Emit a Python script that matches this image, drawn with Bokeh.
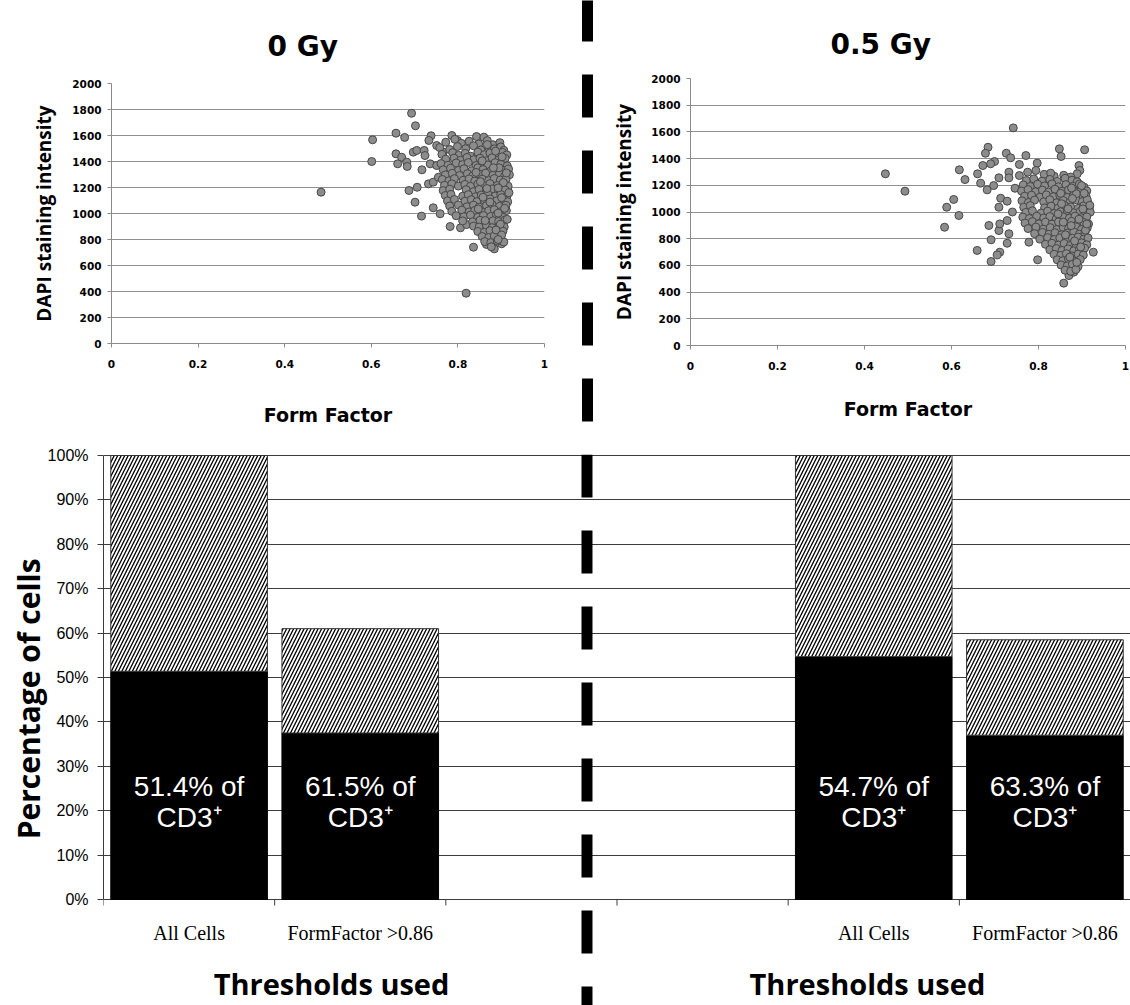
from bokeh.plotting import figure
from bokeh.layouts import column, row
from bokeh.models import Range1d, FixedTicker, NumeralTickFormatter, PrintfTickFormatter
from bokeh.core.properties import value
from bokeh.embed import file_html
from bokeh.resources import INLINE

# ---------------- data ----------------
panel_titles = ["0 Gy", "0.5 Gy"]
ff_ticks = [0, 0.2, 0.4, 0.6, 0.8, 1]
dapi_ticks = [0, 200, 400, 600, 800, 1000, 1200, 1400, 1600, 1800, 2000]

# (Form Factor, DAPI staining intensity)
pts_0gy = [
    (0.484, 1164), (0.603, 1567), (0.601, 1400), (0.693, 1771), (0.702, 1675), (0.657, 1618), (0.677, 1585),
    (0.738, 1598), (0.733, 1562), (0.843, 1592), (0.860, 1587), (0.786, 1600), (0.799, 1562),
    (0.657, 1459), (0.670, 1433), (0.661, 1382), (0.682, 1395), (0.683, 1362), (0.697, 1472), (0.705, 1485),
    (0.722, 1485), (0.724, 1446), (0.717, 1336), (0.687, 1177), (0.706, 1202), (0.701, 1087), (0.716, 980),
    (0.743, 1044), (0.759, 998), (0.736, 1382), (0.751, 1369), (0.732, 1228), (0.743, 1241), (0.755, 1279),
    (0.751, 1523), (0.766, 1472), (0.782, 900), (0.806, 890), (0.820, 915), (0.836, 741), (0.819, 387),
    (0.866, 762), (0.884, 728), (0.901, 767),
    (0.772, 1548), (0.793, 1571), (0.808, 1540), (0.826, 1556), (0.848, 1534), (0.868, 1561), (0.881, 1529), (0.897, 1545),
    (0.758, 1507), (0.781, 1492), (0.799, 1515), (0.818, 1498), (0.836, 1521), (0.853, 1489), (0.871, 1510), (0.884, 1497),
    (0.899, 1512), (0.906, 1486),
    (0.763, 1455), (0.788, 1468), (0.802, 1447), (0.817, 1463), (0.829, 1441), (0.846, 1472), (0.861, 1452), (0.874, 1466),
    (0.891, 1448), (0.903, 1470), (0.913, 1451),
    (0.772, 1418), (0.791, 1426), (0.806, 1409), (0.821, 1431), (0.837, 1414), (0.851, 1425), (0.866, 1406), (0.879, 1429),
    (0.894, 1412), (0.909, 1424),
    (0.761, 1384), (0.777, 1371), (0.796, 1389), (0.811, 1376), (0.824, 1392), (0.842, 1369), (0.857, 1386), (0.869, 1373),
    (0.886, 1391), (0.899, 1378), (0.914, 1366),
    (0.766, 1336), (0.783, 1348), (0.801, 1331), (0.814, 1344), (0.832, 1329), (0.846, 1351), (0.858, 1338), (0.876, 1327),
    (0.889, 1346), (0.904, 1333), (0.917, 1342),
    (0.771, 1297), (0.787, 1309), (0.804, 1292), (0.822, 1306), (0.834, 1289), (0.851, 1302), (0.864, 1311), (0.881, 1294),
    (0.896, 1305), (0.908, 1288), (0.919, 1298),
    (0.764, 1262), (0.779, 1251), (0.792, 1268), (0.812, 1255), (0.826, 1266), (0.839, 1249), (0.856, 1264), (0.871, 1253),
    (0.884, 1269), (0.898, 1257), (0.911, 1263),
    (0.769, 1217), (0.786, 1228), (0.801, 1211), (0.816, 1224), (0.829, 1209), (0.846, 1226), (0.861, 1213), (0.874, 1230),
    (0.891, 1215), (0.904, 1222), (0.916, 1210),
    (0.766, 1176), (0.781, 1187), (0.819, 1183), (0.836, 1168), (0.849, 1185), (0.866, 1174), (0.879, 1189),
    (0.894, 1169), (0.909, 1181),
    (0.771, 1138), (0.784, 1147), (0.811, 1133), (0.824, 1145), (0.841, 1129), (0.854, 1142), (0.869, 1151), (0.886, 1134),
    (0.899, 1146), (0.913, 1131),
    (0.776, 1097), (0.792, 1108), (0.816, 1094), (0.831, 1106), (0.844, 1091), (0.861, 1103), (0.874, 1112), (0.889, 1096),
    (0.906, 1107), (0.915, 1090),
    (0.781, 1058), (0.801, 1066), (0.821, 1052), (0.836, 1064), (0.849, 1049), (0.866, 1061), (0.879, 1069), (0.896, 1055),
    (0.911, 1063),
    (0.786, 1017), (0.809, 1026), (0.826, 1012), (0.839, 1024), (0.856, 1009), (0.871, 1021), (0.884, 1029), (0.899, 1014),
    (0.912, 1022),
    (0.796, 983), (0.814, 975), (0.829, 988), (0.846, 971), (0.859, 984), (0.876, 977), (0.889, 990), (0.904, 972),
    (0.811, 943), (0.834, 936), (0.851, 948), (0.864, 931), (0.881, 944), (0.894, 938), (0.909, 951),
    (0.836, 903), (0.849, 896), (0.866, 909), (0.879, 891), (0.896, 904), (0.907, 897),
    (0.846, 862), (0.861, 855), (0.874, 868), (0.891, 851), (0.904, 864),
    (0.856, 823), (0.871, 815), (0.884, 828), (0.899, 812),
    (0.862, 784), (0.876, 776), (0.891, 789), (0.906, 781),
    (0.887, 1480), (0.902, 1436), (0.895, 1352), (0.912, 1312), (0.905, 1238), (0.893, 1197), (0.918, 1160),
    (0.901, 1122), (0.908, 1040), (0.893, 1003), (0.914, 955), (0.898, 918), (0.888, 873), (0.901, 835),
    (0.893, 800), (0.877, 744), (0.868, 1530), (0.856, 1405), (0.852, 1245), (0.858, 1125), (0.847, 1035),
    (0.863, 946), (0.842, 1316), (0.874, 1088), (0.882, 1352), (0.867, 1192),
]

# (Form Factor, DAPI staining intensity)
pts_05gy = [
    (0.448, 1286), (0.493, 1156), (0.742, 1630), (0.684, 1485), (0.678, 1440), (0.848, 1473), (0.852, 1416),
    (0.906, 1466), (0.726, 1440), (0.736, 1406), (0.771, 1423), (0.699, 1378), (0.690, 1361), (0.672, 1348),
    (0.618, 1316), (0.631, 1243), (0.660, 1286), (0.667, 1216), (0.682, 1166), (0.697, 1198), (0.709, 1256),
    (0.732, 1298), (0.732, 1256), (0.756, 1356), (0.797, 1366), (0.775, 1298), (0.794, 1311), (0.605, 1094),
    (0.589, 1036), (0.617, 974), (0.713, 1103), (0.728, 1081), (0.709, 1036), (0.746, 1178), (0.893, 1348),
    (0.895, 1311), (0.889, 1286), (0.584, 886), (0.686, 899), (0.691, 792), (0.659, 712), (0.711, 699),
    (0.705, 679), (0.691, 629), (0.728, 766), (0.732, 837), (0.709, 861), (0.711, 911), (0.728, 936),
    (0.778, 774), (0.798, 642), (0.858, 467), (0.926, 699), (0.870, 524), (0.881, 549), (0.889, 586),
    (0.740, 1000), (0.756, 1273),
    (0.813, 1282), (0.836, 1268), (0.858, 1275), (0.874, 1262), (0.828, 1291),
    (0.772, 1236), (0.789, 1248), (0.808, 1231), (0.826, 1244), (0.843, 1229), (0.861, 1252), (0.877, 1238), (0.889, 1226),
    (0.765, 1203), (0.781, 1191), (0.798, 1208), (0.814, 1195), (0.831, 1211), (0.846, 1189), (0.863, 1205), (0.879, 1193),
    (0.894, 1209), (0.905, 1186),
    (0.761, 1157), (0.776, 1168), (0.793, 1151), (0.809, 1164), (0.823, 1149), (0.838, 1171), (0.854, 1156), (0.869, 1166),
    (0.884, 1152), (0.899, 1169), (0.911, 1158),
    (0.768, 1118), (0.784, 1126), (0.803, 1111), (0.818, 1128), (0.834, 1114), (0.849, 1125), (0.866, 1109), (0.881, 1127),
    (0.896, 1115), (0.909, 1123),
    (0.762, 1084), (0.777, 1071), (0.791, 1089), (0.812, 1076), (0.826, 1092), (0.842, 1069), (0.857, 1086), (0.872, 1073),
    (0.887, 1091), (0.901, 1078), (0.914, 1066),
    (0.766, 1036), (0.781, 1048), (0.814, 1031), (0.829, 1044), (0.845, 1029), (0.859, 1051), (0.874, 1038), (0.891, 1027),
    (0.904, 1046), (0.917, 1033),
    (0.771, 997), (0.786, 1009), (0.806, 992), (0.821, 1006), (0.836, 989), (0.851, 1002), (0.866, 1011), (0.881, 994),
    (0.896, 1005), (0.908, 988), (0.919, 999),
    (0.764, 962), (0.779, 951), (0.796, 968), (0.812, 955), (0.826, 966), (0.841, 949), (0.856, 964), (0.871, 953),
    (0.884, 969), (0.898, 957), (0.911, 963),
    (0.769, 917), (0.786, 928), (0.801, 911), (0.816, 924), (0.831, 909), (0.846, 926), (0.861, 913), (0.876, 930),
    (0.891, 915), (0.904, 922), (0.915, 910),
    (0.776, 876), (0.794, 887), (0.811, 871), (0.827, 883), (0.842, 868), (0.857, 885), (0.869, 874), (0.886, 889),
    (0.899, 869), (0.912, 881),
    (0.791, 838), (0.809, 847), (0.824, 833), (0.838, 845), (0.853, 829), (0.866, 842), (0.881, 851), (0.894, 834),
    (0.907, 846),
    (0.803, 797), (0.821, 808), (0.836, 794), (0.849, 806), (0.864, 791), (0.878, 803), (0.891, 812), (0.904, 796),
    (0.914, 806),
    (0.816, 758), (0.831, 766), (0.846, 752), (0.859, 764), (0.873, 749), (0.886, 761), (0.899, 769), (0.911, 754),
    (0.826, 717), (0.841, 726), (0.854, 712), (0.868, 724), (0.881, 709), (0.894, 721), (0.906, 729),
    (0.836, 683), (0.851, 675), (0.864, 688), (0.877, 671), (0.891, 684), (0.903, 677),
    (0.843, 642), (0.856, 635), (0.869, 648), (0.883, 631), (0.896, 644),
    (0.852, 603), (0.866, 596), (0.878, 609), (0.891, 592),
    (0.861, 564), (0.874, 556), (0.886, 569),
    (0.902, 1023), (0.893, 946), (0.887, 1137), (0.908, 864), (0.875, 898), (0.868, 1024), (0.883, 783),
    (0.897, 738), (0.862, 829), (0.876, 1180), (0.851, 1140), (0.857, 924), (0.845, 986), (0.872, 662),
    (0.888, 623), (0.853, 1062), (0.878, 1101), (0.899, 1198), (0.912, 1093), (0.905, 1140), (0.918, 1050),
    (0.911, 910),
]

# bar chart
bar_categories = ["All Cells", "FormFactor >0.86", "", "", "All Cells", "FormFactor >0.86"]
total_share = [100.0, 61.0, 100.0, 58.5]      # % of cells passing threshold (full bar)
cd3_share = [51.4, 37.5, 54.7, 37.0]          # CD3+ part of bar (black)
pct_of_cd3 = [51.4, 61.5, 54.7, 63.3]         # label values
pct_ticks = [0, 10, 20, 30, 40, 50, 60, 70, 80, 90, 100]
group_titles = ["Thresholds used", "Thresholds used"]

# ---------------- scatter panels ----------------
def scatter_panel(title, pts, width, bl, br, bt, bb, title_offset, title_standoff, ylab_standoff, xlab_standoff):
    p = figure(width=width, height=440, x_range=Range1d(0, 1), y_range=Range1d(0, 2000),
               toolbar_location=None, output_backend="svg",
               min_border_left=bl, min_border_right=br, min_border_top=bt, min_border_bottom=bb)
    p.outline_line_color = None
    p.title.text = title
    p.title.align = "left"
    p.title.offset = title_offset
    p.title.standoff = title_standoff
    p.title.text_font = "DejaVu Sans"
    p.title.text_font_size = "28px"
    p.title.text_font_style = "bold"
    p.title.text_color = "black"

    p.scatter([q[0] for q in pts], [q[1] for q in pts], size=8, marker="circle",
              fill_color="#8c8c8c", line_color="#474747", line_width=1)

    p.xaxis.ticker = FixedTicker(ticks=ff_ticks)
    p.xaxis.formatter = NumeralTickFormatter(format="0.[0]")
    p.yaxis.ticker = FixedTicker(ticks=dapi_ticks)
    p.xgrid.visible = False
    p.ygrid.grid_line_color = "#8f8f8f"
    p.ygrid.grid_line_width = 1

    for ax in (p.xaxis[0], p.yaxis[0]):
        ax.axis_line_color = "#8a8a8a"
        ax.major_tick_line_color = "#8a8a8a"
        ax.major_tick_in = 0
        ax.major_tick_out = 4
        ax.minor_tick_line_color = None
        ax.major_label_text_font = "DejaVu Sans"
        ax.major_label_text_font_style = "bold"
        ax.major_label_text_font_size = "10.5px"
        ax.major_label_text_color = "black"
        ax.axis_label_text_color = "black"
        ax.axis_label_text_font_style = "bold"

    p.xaxis.major_label_standoff = 12
    p.yaxis.major_label_standoff = 6
    p.xaxis.axis_label = "Form Factor"
    p.xaxis.axis_label_text_font = "DejaVu Sans"
    p.xaxis.axis_label_text_font_size = "19px"
    p.xaxis.axis_label_standoff = xlab_standoff
    p.yaxis.axis_label = "DAPI staining intensity"
    p.yaxis.axis_label_text_font = "Open Sans"
    p.yaxis.axis_label_text_font_size = "19px"
    p.yaxis.axis_label_standoff = ylab_standoff
    return p


left = scatter_panel(panel_titles[0], pts_0gy, 581, 111, 37, 83, 97, 156, 42, 12, 33)
right = scatter_panel(panel_titles[1], pts_05gy, 537, 97, 5, 78, 95, 140, 36, 11, 25)

# dashed divider strip between the two scatter panels
strip = figure(width=12, height=440, x_range=Range1d(0, 1), y_range=Range1d(0, 440),
               toolbar_location=None, output_backend="svg", min_border=0,
               x_axis_location=None, y_axis_location=None)
strip.outline_line_color = None
strip.grid.visible = False
strip.segment(x0=[0.5], y0=[442], x1=[0.5], y1=[-10], line_width=11, line_color="black",
              line_dash="43 33", line_cap="butt")

# ---------------- bar chart ----------------
PX_PER_PCT = 4.44
bottom = figure(width=1130, height=565, x_range=Range1d(0, 6),
                y_range=Range1d(-106 / PX_PER_PCT, 100 + 1 / PX_PER_PCT),
                toolbar_location=None, output_backend="svg", x_axis_location=None,
                min_border_left=103, min_border_right=0, min_border_top=14, min_border_bottom=0)
bottom.outline_line_color = None
bottom.xgrid.visible = False
bottom.yaxis.ticker = FixedTicker(ticks=pct_ticks)
bottom.yaxis.formatter = PrintfTickFormatter(format="%d%%")
bottom.yaxis.bounds = (0, 100)
bottom.ygrid.grid_line_color = "#3c3c3c"
bottom.ygrid.grid_line_width = 1
ya = bottom.yaxis[0]
ya.axis_line_color = "#3c3c3c"
ya.major_tick_line_color = "#3c3c3c"
ya.major_tick_in = 0
ya.major_tick_out = 6
ya.minor_tick_line_color = None
ya.major_label_text_font = "Liberation Sans"
ya.major_label_text_font_size = "16px"
ya.major_label_text_color = "black"
ya.major_label_standoff = 9
# leading no-break spaces lift the label to the centre of the 0-100 % span
ya.axis_label = "\u00a0" * 8 + "Percentage of cells"
ya.axis_label_text_font = "Open Sans"
ya.axis_label_text_font_size = "30px"
ya.axis_label_text_font_style = "bold"
ya.axis_label_text_color = "black"
ya.axis_label_standoff = -4

n_cat = len(bar_categories)
bar_x = [i + 0.5 for i, c in enumerate(bar_categories) if c]
cat_x = [i + 0.5 for i in range(n_cat)]
bounds_x = list(range(n_cat + 1))

# category axis tick marks at 0 %
bottom.segment(x0=bounds_x, y0=[0] * len(bounds_x), x1=bounds_x, y1=[-6 / PX_PER_PCT] * len(bounds_x),
               line_color="#3c3c3c", line_width=1)

bottom.vbar(x=bar_x, bottom=0, top=cd3_share, width=0.915, fill_color="black", line_color="black")
bottom.vbar(x=bar_x, bottom=cd3_share, top=total_share, width=0.915, fill_color="white",
            hatch_pattern="/", hatch_color="black", hatch_scale=7, hatch_weight=1.3,
            line_color="#333333", line_width=1)

bottom.text(x=bar_x, y=[25.4] * len(bar_x), text=[f"{v}% of" for v in pct_of_cd3],
            text_color="white", text_font=value("Liberation Sans"), text_font_size="28px",
            text_align="center", text_baseline="middle")
bottom.text(x=bar_x, y=[18.4] * len(bar_x), text=["CD3\u207a"] * len(bar_x),
            text_color="white", text_font=value("Liberation Sans"), text_font_size="28px",
            text_align="center", text_baseline="middle")

bottom.text(x=cat_x, y=[-33 / PX_PER_PCT] * n_cat, text=bar_categories,
            text_color="black", text_font=value("Liberation Serif"), text_font_size="20px",
            text_align="center", text_baseline="middle")

bottom.text(x=[1.332, 4.463], y=[-84 / PX_PER_PCT] * 2, text=group_titles,
            text_color="black", text_font=value("Open Sans"), text_font_size="29px",
            text_font_style="bold", text_align="center", text_baseline="middle")

# dashed divider continuing through the bar chart
DIV_X = 2.8247
bottom.segment(x0=[DIV_X], y0=[100 + 1 / PX_PER_PCT], x1=[DIV_X], y1=[-40], line_width=11,
               line_color="black", line_dash="43 33", line_cap="butt")

top_row = row(column(left), column(strip), column(right), spacing=0)
layout = column(top_row, bottom, spacing=0)

with open("out.html", "w") as f:
    f.write(file_html(layout, INLINE))
